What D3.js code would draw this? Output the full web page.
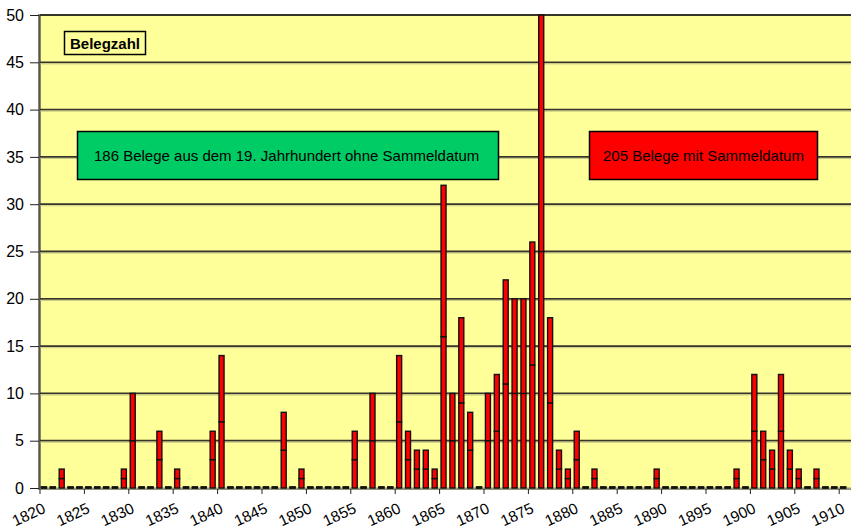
<!DOCTYPE html>
<html><head><meta charset="utf-8">
<script src="https://cdn.jsdelivr.net/npm/d3@7"></script>
<style>
html,body{margin:0;padding:0;background:#fff;}
svg{display:block;font-family:Arial,"Liberation Sans",sans-serif;}
</style></head>
<body>
<svg id="chart" width="851" height="528"></svg>
<script>
// ---- data ----
const firstYear = 1820;
const lastYear = 1910;
const tickYears = [1820,1825,1830,1835,1840,1845,1850,1855,1860,1865,1870,1875,1880,1885,1890,1895,1900,1905,1910];
const yTicks = [0,5,10,15,20,25,30,35,40,45,50];
const dataYears = [1822,1829,1830,1833,1835,1839,1840,1847,1849,1855,1857,1860,1861,1862,1863,1864,1865,1866,1867,1868,1870,1871,1872,1873,1874,1875,1876,1877,1878,1879,1880,1882,1889,1898,1900,1901,1902,1903,1904,1905,1907];
const seriesLower = [1,1,5,3,1,3,7,4,1,3,5,7,3,2,2,1,16,5,9,4,5,6,11,10,10,13,25,9,2,1,3,1,1,1,6,3,2,6,2,1,1];
const seriesUpper = [1,1,5,3,1,3,7,4,1,3,5,7,3,2,2,1,16,5,9,4,5,6,11,10,10,13,25,9,2,1,3,1,1,1,6,3,2,6,2,1,1];
const labelTitle = "Belegzahl";
const labelGreen = "186 Belege aus dem 19. Jahrhundert ohne Sammeldatum";
const labelRed = "205 Belege mit Sammeldatum";

// ---- table ----
const allYears = d3.range(firstYear, lastYear + 1);
const table = allYears.map(y => {
  const i = dataYears.indexOf(y);
  return {year: y, lower: i >= 0 ? seriesLower[i] : 0, upper: i >= 0 ? seriesUpper[i] : 0};
});

const svg = d3.select("#chart");
const L = 40, T = 15, R = 851, B = 488;
const x = d3.scaleBand().domain(allYears).range([39.5, 39.5 + 8.88 * allYears.length]);
const y = d3.scaleLinear().domain([0, 50]).range([B, T]);

// plot background with 3D wall edge
svg.append("rect").attr("x", L - 2).attr("y", T - 1).attr("width", R - L + 2).attr("height", B - T + 3).attr("fill", "#8c8c70");
svg.append("rect").attr("x", L + 1).attr("y", T + 1).attr("width", R - L).attr("height", B - T).attr("fill", "#ffff99");

// gridlines
svg.append("g").selectAll("line").data(yTicks.filter(d => d > 0)).join("line")
  .attr("x1", L).attr("x2", R).attr("y1", d => y(d)).attr("y2", d => y(d))
  .attr("stroke", "#35352a").attr("stroke-width", 1.8);
svg.append("g").selectAll("line").data(yTicks.filter(d => d > 0 && d < 50)).join("line")
  .attr("x1", L).attr("x2", R).attr("y1", d => y(d) + 1.6).attr("y2", d => y(d) + 1.6)
  .attr("stroke", "#c8c88a").attr("stroke-width", 1);

// baseline
svg.append("line").attr("x1", L).attr("x2", R).attr("y1", B + 0.5).attr("y2", B + 0.5)
  .attr("stroke", "#9a9a80").attr("stroke-width", 2);

// y axis
const yAxis = d3.axisLeft(y).tickValues(yTicks).tickSize(9).tickPadding(6);
const gy = svg.append("g").attr("transform", `translate(${L - 1},0)`).call(yAxis);
gy.select(".domain").attr("stroke", "#555").attr("stroke-width", 1.2);
gy.selectAll(".tick line").attr("stroke", "#222");
gy.selectAll("text").attr("font-size", 16).attr("fill", "#000").attr("font-family", "Arial, 'Liberation Sans', sans-serif");

// x axis (ticks at category boundaries)
const xPos = d3.scaleLinear().domain([firstYear, lastYear]).range([x(firstYear), x(lastYear)]);
const xAxis = d3.axisBottom(xPos).tickValues(tickYears).tickFormat("").tickSize(5);
const gx = svg.append("g").attr("transform", `translate(0,${B + 1})`).call(xAxis);
gx.select(".domain").remove();
gx.selectAll(".tick line").attr("stroke", "#222");
svg.append("g").selectAll("text").data(tickYears).join("text")
  .attr("transform", d => `translate(${xPos(d) + 7},${B + 24}) rotate(-25)`)
  .attr("text-anchor", "end")
  .attr("font-size", 15.5).attr("fill", "#000")
  .attr("font-family", "Arial, 'Liberation Sans', sans-serif")
  .text(d => d);

// bars (stacked two segments)
const stack = d3.stack().keys(["lower", "upper"]);
const layers = stack(table);
const bw = 5;
svg.append("g").selectAll("g").data(layers).join("g")
  .selectAll("rect").data(d => d).join("rect")
  .attr("x", d => x(d.data.year) + x.bandwidth() / 2 - bw / 2)
  .attr("width", bw)
  .attr("y", d => y(d[1]) - (d[1] === d[0] ? 1 : 0))
  .attr("height", d => Math.max(0, y(d[0]) - y(d[1])) + (d[1] === d[0] ? 1 : 0))
  .attr("fill", d => d[1] === d[0] ? "#111" : "#ff0000")
  .attr("stroke", "#111").attr("stroke-width", 1.4);

// labels
function box(x0, y0, w, h, fill, text, bold, tx) {
  svg.append("rect").attr("x", x0).attr("y", y0).attr("width", w).attr("height", h)
    .attr("fill", fill).attr("stroke", "#000").attr("stroke-width", 1.5);
  svg.append("text").attr("x", tx).attr("y", y0 + h / 2 + 5.5).attr("font-size", 15)
    .attr("font-weight", bold ? "bold" : "normal").attr("fill", "#000").text(text);
}
box(64.5, 31.5, 81, 23, "#ffff99", labelTitle, true, 70);
box(77.5, 131.5, 421, 48, "#00cc66", labelGreen, false, 94);
box(589.5, 131.5, 228, 48, "#ff0000", labelRed, false, 603);
</script>
</body></html>
